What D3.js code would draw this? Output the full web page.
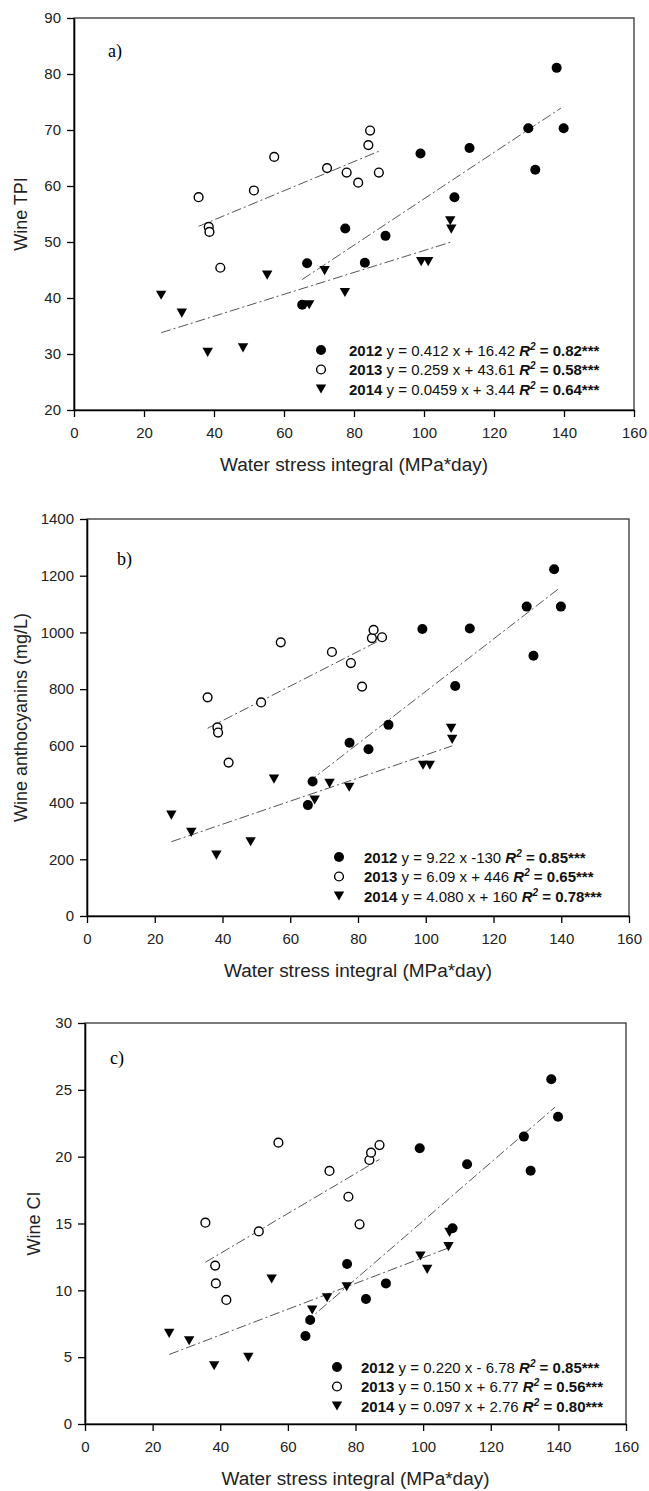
<!DOCTYPE html>
<html>
<head>
<meta charset="utf-8">
<script src="https://cdn.jsdelivr.net/npm/d3@7"></script>
<style>
  body { margin: 0; background: #fff; }
  svg { display: block; font-family: "Liberation Sans", Arial, sans-serif; }
</style>
</head>
<body>
<svg id="chart" width="649" height="1491"></svg>
<script>
// Data
const years = ["2012", "2013", "2014"]
const xTicks = [0, 20, 40, 60, 80, 100, 120, 140, 160]

// water stress integral (MPa*day) of each sample, per year
const wsi2012 = [65.2, 66.6, 77.5, 83.1, 89.0, 99.0, 108.7, 113.0, 129.8, 131.8, 137.9, 139.9]
const wsi2013 = [35.6, 38.5, 38.7, 41.8, 51.4, 57.2, 72.3, 77.9, 81.2, 84.1, 84.6, 87.1]
const wsi2014 = [24.9, 30.8, 38.2, 48.3, 55.2, 67.2, 71.6, 77.4, 99.2, 101.2, 107.5, 107.8]

// a) Wine TPI
const tpi2012 = [38.8, 46.2, 52.4, 46.3, 51.1, 65.8, 58.0, 66.8, 70.3, 62.9, 81.1, 70.3]
const tpi2013 = [58.0, 52.7, 51.8, 45.4, 59.2, 65.2, 63.2, 62.4, 60.6, 67.3, 69.9, 62.4]
const tpi2014 = [40.5, 37.3, 30.3, 31.1, 44.1, 38.8, 44.9, 41.0, 46.5, 46.5, 53.8, 52.3]
const tpiFits = [[[65.2, 43.3], [139.1, 73.9]], [[35.6, 52.8], [87.1, 66.2]], [[24.9, 33.8], [107.8, 50.0]]]
const tpiTicks = [20, 30, 40, 50, 60, 70, 80, 90]
const tpiEq = ["y = 0.412 x + 16.42", "y = 0.259 x + 43.61", "y = 0.0459 x + 3.44"]
const tpiR2 = ["0.82", "0.58", "0.64"]

// b) Wine anthocyanins
const ant2012 = [391, 474, 611, 588, 674, 1012, 811, 1014, 1091, 918, 1223, 1091]
const ant2013 = [771, 665, 647, 541, 753, 965, 931, 892, 809, 980, 1009, 983]
const ant2014 = [356, 295, 215, 262, 483, 409, 468, 454, 532, 532, 662, 623]
const antFits = [[[65.2, 471], [139.0, 1152]], [[35.6, 662], [87.1, 976]], [[24.9, 262], [107.8, 600]]]
const antTicks = [0, 200, 400, 600, 800, 1000, 1200, 1400]
const antEq = ["y = 9.22 x -130", "y = 6.09 x + 446", "y = 4.080 x + 160"]
const antR2 = ["0.85", "0.65", "0.78"]

// c) Wine CI
const ci2012 = [6.58, 7.78, 11.97, 9.35, 10.52, 20.63, 14.64, 19.43, 21.5, 18.95, 25.79, 22.99]
const ci2013 = [15.06, 11.85, 10.52, 9.28, 14.41, 21.05, 18.93, 17.0, 14.94, 19.75, 20.3, 20.87]
const ci2014 = [6.78, 6.23, 4.36, 4.99, 10.85, 8.53, 9.45, 10.27, 12.57, 11.57, 13.27, 14.34]
const ciFits = [[[65.2, 7.6], [139.0, 23.7]], [[35.6, 12.1], [87.1, 19.8]], [[24.9, 5.2], [107.8, 13.2]]]
const ciTicks = [0, 5, 10, 15, 20, 25, 30]
const ciEq = ["y = 0.220 x - 6.78", "y = 0.150 x + 6.77", "y = 0.097 x + 2.76"]
const ciR2 = ["0.85", "0.56", "0.80"]

const xs = [wsi2012, wsi2013, wsi2014]

// layout of each panel
const panels = [
    { tag: "a)", yLabel: "Wine TPI", ys: [tpi2012, tpi2013, tpi2014], fits: tpiFits, ticks: tpiTicks,
      eq: tpiEq, r2: tpiR2, left: 74, right: 634, top: 18, bottom: 410, yTitleX: 27, tagX: 108, tagY: 57,
      legX: 321, legTextX: 349, legY: 350 },
    { tag: "b)", yLabel: "Wine anthocyanins (mg/L)", ys: [ant2012, ant2013, ant2014], fits: antFits, ticks: antTicks,
      eq: antEq, r2: antR2, left: 87, right: 629, top: 519, bottom: 916, yTitleX: 27, tagX: 117, tagY: 565,
      legX: 339, legTextX: 364, legY: 857 },
    { tag: "c)", yLabel: "Wine CI", ys: [ci2012, ci2013, ci2014], fits: ciFits, ticks: ciTicks,
      eq: ciEq, r2: ciR2, left: 85, right: 626, top: 1023, bottom: 1424, yTitleX: 40, tagX: 110, tagY: 1064,
      legX: 337, legTextX: 361, legY: 1367 }
]

const svg = d3.select("#chart")
const triangle = "M-5.2,-4.5L5.2,-4.5L0,4.6Z"

// Draw one marker of a given year
function drawMarker(g, year, cx, cy) {
    if (year == 0) {
        g.append("circle").attr("cx", cx).attr("cy", cy).attr("r", 5).attr("fill", "#000")
    } else if (year == 1) {
        g.append("circle").attr("cx", cx).attr("cy", cy).attr("r", 4.4)
            .attr("fill", "#fff").attr("stroke", "#000").attr("stroke-width", 1.4)
    } else {
        g.append("path").attr("d", triangle).attr("transform", `translate(${cx},${cy})`).attr("fill", "#000")
    }
}

panels.forEach(p => {
    const x = d3.scaleLinear().domain([0, 160]).range([p.left, p.right])
    const y = d3.scaleLinear().domain([p.ticks[0], p.ticks[p.ticks.length - 1]]).range([p.bottom, p.top])
    const g = svg.append("g")

    // frame
    g.append("rect")
        .attr("x", p.left).attr("y", p.top)
        .attr("width", p.right - p.left).attr("height", p.bottom - p.top)
        .attr("fill", "none").attr("stroke", "#333").attr("stroke-width", 1.3)

    // axes
    const xAxis = g.append("g").attr("transform", `translate(0,${p.bottom})`)
        .call(d3.axisBottom(x).tickValues(xTicks).tickFormat(d3.format("d"))
            .tickSize(7).tickPadding(10).tickSizeOuter(0))
    const yAxis = g.append("g").attr("transform", `translate(${p.left},0)`)
        .call(d3.axisLeft(y).tickValues(p.ticks).tickFormat(d3.format("d"))
            .tickSize(7).tickPadding(6).tickSizeOuter(0))
    ;[xAxis, yAxis].forEach(a => {
        a.attr("font-size", 15).attr("font-family", "Liberation Sans, Arial, sans-serif")
        a.select(".domain").attr("stroke", "#000").attr("stroke-width", 1.6)
        a.selectAll(".tick line").attr("stroke", "#000").attr("stroke-width", 1.3)
        a.selectAll(".tick text").attr("fill", "#222")
    })

    // axis titles
    g.append("text")
        .attr("x", (p.left + p.right) / 2).attr("y", p.bottom + 61)
        .attr("text-anchor", "middle").attr("font-size", 18).attr("fill", "#222")
        .attr("textLength", 268).attr("lengthAdjust", "spacingAndGlyphs")
        .text("Water stress integral (MPa*day)")
    g.append("text")
        .attr("transform", `translate(${p.yTitleX},${(p.top + p.bottom) / 2}) rotate(-90)`)
        .attr("text-anchor", "middle").attr("font-size", 18).attr("fill", "#222")
        .text(p.yLabel)

    // panel tag
    g.append("text")
        .attr("x", p.tagX).attr("y", p.tagY)
        .attr("font-family", "Liberation Serif, Times New Roman, serif").attr("font-size", 18)
        .text(p.tag)

    // regression lines
    const line = d3.line().x(d => x(d[0])).y(d => y(d[1]))
    p.fits.forEach(f => {
        g.append("path").attr("d", line(f))
            .attr("fill", "none").attr("stroke", "#555").attr("stroke-width", 1)
            .attr("stroke-dasharray", "10,3,2,3")
    })

    // points
    years.forEach((yr, i) => {
        xs[i].forEach((v, k) => drawMarker(g, i, x(v), y(p.ys[i][k])))
    })

    // legend
    years.forEach((yr, i) => {
        const ly = p.legY + i * 19.5
        drawMarker(g, i, p.legX, ly)
        const t = g.append("text")
            .attr("x", p.legTextX).attr("y", ly + 5.5)
            .attr("font-size", 15).attr("fill", "#111")
            .style("white-space", "pre")
        t.append("tspan").attr("font-weight", "bold").text(yr)
        t.append("tspan").text(` ${p.eq[i]} `)
        t.append("tspan").attr("font-weight", "bold").attr("font-style", "italic").text("R")
        t.append("tspan").attr("font-weight", "bold").attr("font-style", "italic")
            .attr("font-size", 10).attr("dy", -6).text("2")
        t.append("tspan").attr("font-weight", "bold").attr("dy", 6).text(` = ${p.r2[i]}***`)
    })
})
</script>
</body>
</html>
